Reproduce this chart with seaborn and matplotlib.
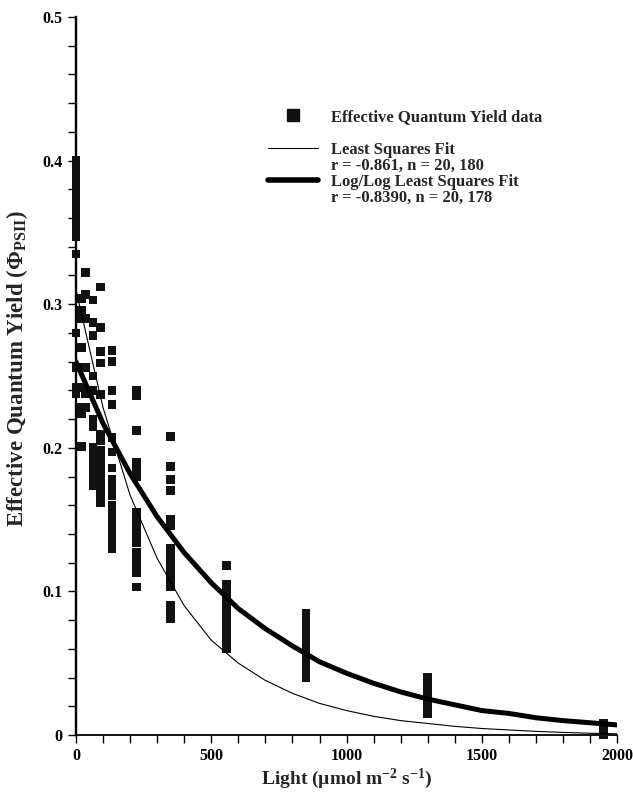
import matplotlib
matplotlib.use("Agg")
import matplotlib.pyplot as plt
from matplotlib.ticker import MultipleLocator, FormatStrFormatter
from matplotlib.lines import Line2D
import seaborn as sns
import pandas as pd

light_levels = [0, 20, 35, 63, 91, 133, 225, 350, 555, 850, 1300, 1950]
yields_0 = [0.400, 0.397, 0.394, 0.390, 0.386, 0.382, 0.378, 0.374, 0.370, 0.366,
            0.362, 0.358, 0.354, 0.350, 0.347, 0.335, 0.280, 0.256, 0.242, 0.238]
yields_20 = [0.304, 0.296, 0.290, 0.270, 0.256, 0.242, 0.228, 0.224, 0.201]
yields_35 = [0.322, 0.307, 0.290, 0.256, 0.238, 0.228]
yields_63 = [0.303, 0.287, 0.278, 0.250, 0.240, 0.220, 0.215, 0.200, 0.195,
             0.190, 0.185, 0.180, 0.174]
yields_91 = [0.312, 0.284, 0.267, 0.259, 0.237, 0.209, 0.205, 0.198, 0.193,
             0.188, 0.183, 0.178, 0.172, 0.167, 0.162]
yields_133 = [0.268, 0.260, 0.240, 0.230, 0.207, 0.197, 0.186, 0.178, 0.172,
              0.167, 0.160, 0.155, 0.150, 0.145, 0.140, 0.135, 0.130]
yields_225 = [0.240, 0.236, 0.212, 0.190, 0.185, 0.180, 0.155, 0.150, 0.145,
              0.140, 0.134, 0.127, 0.122, 0.118, 0.113, 0.103]
yields_350 = [0.208, 0.187, 0.178, 0.170, 0.150, 0.146, 0.130, 0.124, 0.119,
              0.114, 0.108, 0.103, 0.090, 0.085, 0.081]
yields_555 = [0.118, 0.105, 0.099, 0.095, 0.091, 0.087, 0.083, 0.079, 0.075,
              0.071, 0.067, 0.063, 0.060]
yields_850 = [0.085, 0.079, 0.074, 0.070, 0.066, 0.062, 0.058, 0.054, 0.050,
              0.046, 0.042, 0.040]
yields_1300 = [0.040, 0.036, 0.033, 0.030, 0.027, 0.024, 0.021, 0.018, 0.015]
yields_1950 = [0.008, 0.006, 0.002, 0.000]

all_yields = [yields_0, yields_20, yields_35, yields_63, yields_91, yields_133,
              yields_225, yields_350, yields_555, yields_850, yields_1300, yields_1950]

# fitted curves, every 100 umol
fit_light = [0, 100, 200, 300, 400, 500, 600, 700, 800, 900, 1000,
             1100, 1200, 1300, 1400, 1500, 1600, 1700, 1800, 1900, 2000]
ls_fit = [0.310, 0.228, 0.167, 0.123, 0.090, 0.066, 0.050, 0.038, 0.029, 0.022, 0.017,
          0.013, 0.010, 0.008, 0.006, 0.0045, 0.0035, 0.0025, 0.0018, 0.0012, 0.0008]
loglog_fit = [0.260, 0.217, 0.182, 0.152, 0.127, 0.106, 0.088, 0.074, 0.062, 0.051, 0.043,
              0.036, 0.030, 0.025, 0.021, 0.017, 0.015, 0.012, 0.010, 0.0085, 0.007]

legend_labels = ["Effective Quantum Yield data",
                 "Least Squares Fit", "r = -0.861, n = 20, 180",
                 "Log/Log Least Squares Fit", "r = -0.8390, n = 20, 178"]

rows = []
for lvl, ys in zip(light_levels, all_yields):
    for y in ys:
        rows.append({"light": lvl, "yield": y})
df = pd.DataFrame(rows)
fits = pd.DataFrame({"light": fit_light, "ls": ls_fit, "loglog": loglog_fit})

sns.set_theme(style="ticks")
plt.rcParams["font.family"] = ["Liberation Serif", "DejaVu Serif"]
plt.rcParams["font.weight"] = "bold"
plt.rcParams["mathtext.fontset"] = "custom"
plt.rcParams["mathtext.rm"] = "Liberation Serif:bold"
plt.rcParams["mathtext.it"] = "Liberation Serif:bold"
plt.rcParams["mathtext.bf"] = "Liberation Serif:bold"

fig = plt.figure(figsize=(6.33, 7.92), dpi=100)
ax = fig.add_axes([0.12, 0.072, 0.855, 0.9065])

sns.scatterplot(data=df, x="light", y="yield", marker="s", s=40, color="#111111",
                edgecolor="none", ax=ax, clip_on=False, zorder=3)
sns.lineplot(data=fits, x="light", y="ls", color="black", linewidth=0.8, ax=ax, zorder=4)
sns.lineplot(data=fits, x="light", y="loglog", color="black", linewidth=3.6, ax=ax,
             zorder=4, solid_capstyle="round")

ax.set_xlim(0, 2000)
ax.set_ylim(0, 0.5)
ax.xaxis.set_major_locator(MultipleLocator(500))
ax.xaxis.set_minor_locator(MultipleLocator(100))
ax.yaxis.set_major_locator(MultipleLocator(0.1))
ax.yaxis.set_minor_locator(MultipleLocator(0.02))
ax.yaxis.set_major_formatter(FormatStrFormatter("%g"))
ax.tick_params(which="both", direction="out", width=1, colors="black", labelsize=11.5)
ax.tick_params(which="both", length=6)
for lab in ax.get_xticklabels() + ax.get_yticklabels():
    lab.set_fontweight("bold")
sns.despine(ax=ax)
ax.spines["left"].set_linewidth(1.7)
ax.spines["bottom"].set_linewidth(1.3)
ax.spines["left"].set_color("black")
ax.spines["bottom"].set_color("black")

ax.set_xlabel(r"Light (µmol m$^{-2}$ s$^{-1}$)", fontsize=14, fontweight="bold", labelpad=2)
ax.set_ylabel(r"Effective Quantum Yield ($\Phi_{\mathrm{PSII}}$)", fontsize=16.5,
              fontweight="bold")
ax.yaxis.set_label_coords(-0.085, 0.51)

data_handle = Line2D([], [], marker="s", linestyle="none", color="#111111", markersize=8)
thin_handle = Line2D([], [], color="black", linewidth=0.8)
thick_handle = Line2D([], [], color="black", linewidth=4)
blank_handle = Line2D([], [], linestyle="none")

leg1 = ax.legend([data_handle], legend_labels[:1], loc="upper left",
                 bbox_to_anchor=(0.355, 0.872), frameon=False, borderpad=0,
                 borderaxespad=0, handlelength=3.0, handletextpad=0.8,
                 prop={"size": 12, "weight": "bold"})
ax.add_artist(leg1)
leg2 = ax.legend([thin_handle, blank_handle, thick_handle, blank_handle],
                 legend_labels[1:], loc="upper left", bbox_to_anchor=(0.355, 0.826),
                 frameon=False, borderpad=0, borderaxespad=0, handlelength=3.0,
                 handletextpad=0.8, labelspacing=0.0, prop={"size": 12, "weight": "bold"})

fig.savefig("out.png", dpi=100)
